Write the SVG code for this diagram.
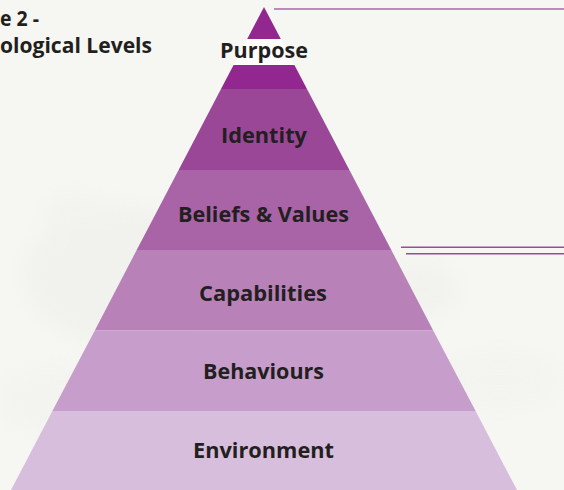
<svg xmlns="http://www.w3.org/2000/svg" width="564" height="490" viewBox="0 0 564 490">
  <style>
    .lbl { font-family: "Open Sans", "Liberation Sans", sans-serif; font-weight: 700; font-size: 21px; fill: #231f20; }
    .rule { stroke-width: 1.5; fill: none; }
  </style>
  <defs>
    <filter id="soft" x="-50%" y="-50%" width="200%" height="200%">
      <feGaussianBlur stdDeviation="10"/>
    </filter>
  </defs>
  <g id="background">
    <rect x="0" y="0" width="564" height="490" fill="#f6f7f2"/>
    <g filter="url(#soft)" opacity="0.35">
      <ellipse cx="120" cy="275" rx="95" ry="70" fill="#e8e8e6"/>
      <ellipse cx="75" cy="215" rx="30" ry="22" fill="#ebeae8"/>
      <ellipse cx="420" cy="290" rx="40" ry="28" fill="#eaebe7"/>
      <ellipse cx="500" cy="380" rx="60" ry="30" fill="#efefeb"/>
      <ellipse cx="60" cy="400" rx="60" ry="35" fill="#eeeeeb"/>
    </g>
  </g>
  <g id="title">
    <text class="lbl" x="0" y="26" textLength="39" lengthAdjust="spacingAndGlyphs">e 2 -</text>
    <text class="lbl" x="0" y="53" textLength="152" lengthAdjust="spacingAndGlyphs">ological Levels</text>
  </g>
  <g id="connectors">
    <line class="rule" x1="274" y1="9" x2="564" y2="9" stroke="#b35fb3"/>
    <line class="rule" x1="401" y1="247.3" x2="564" y2="247.3" stroke="#9b4a9b"/>
    <line class="rule" x1="406" y1="253.7" x2="564" y2="253.7" stroke="#9b4a9b"/>
  </g>
  <g id="purpose">
    <polygon points="264,7 280.8,39 247.2,39" fill="#92278f"/>
    <polygon points="247.2,39 280.8,39 294.4,65 233.6,65" fill="#fefefc"/>
    <polygon points="233.6,65 294.4,65 307,89 221,89" fill="#92278f"/>
    <text class="lbl" x="264" y="57.5" text-anchor="middle" textLength="88" lengthAdjust="spacingAndGlyphs">Purpose</text>
  </g>
  <g id="identity">
    <polygon points="221,89 307,89 349.4,170 178.6,170" fill="#9b4798"/>
    <text class="lbl" x="264" y="142.5" text-anchor="middle" textLength="86" lengthAdjust="spacingAndGlyphs">Identity</text>
  </g>
  <g id="beliefs">
    <polygon points="178.6,170 349.4,170 391.3,250 136.7,250" fill="#a964a8"/>
    <text class="lbl" x="263.5" y="222" text-anchor="middle" textLength="171" lengthAdjust="spacingAndGlyphs">Beliefs &amp; Values</text>
  </g>
  <g id="capabilities">
    <polygon points="136.7,250 391.3,250 433.2,330.5 94.8,330.5" fill="#b882b9"/>
    <text class="lbl" x="263" y="301" text-anchor="middle" textLength="128" lengthAdjust="spacingAndGlyphs">Capabilities</text>
  </g>
  <g id="behaviours">
    <polygon points="94.8,330.5 433.2,330.5 475.6,411 52.4,411" fill="#c69dcb"/>
    <text class="lbl" x="263.5" y="379" text-anchor="middle" textLength="121" lengthAdjust="spacingAndGlyphs">Behaviours</text>
  </g>
  <g id="environment">
    <polygon points="52.4,411 475.6,411 517,490 11,490" fill="#d8bedd"/>
    <text class="lbl" x="263.5" y="458" text-anchor="middle" textLength="141" lengthAdjust="spacingAndGlyphs">Environment</text>
  </g>
</svg>
